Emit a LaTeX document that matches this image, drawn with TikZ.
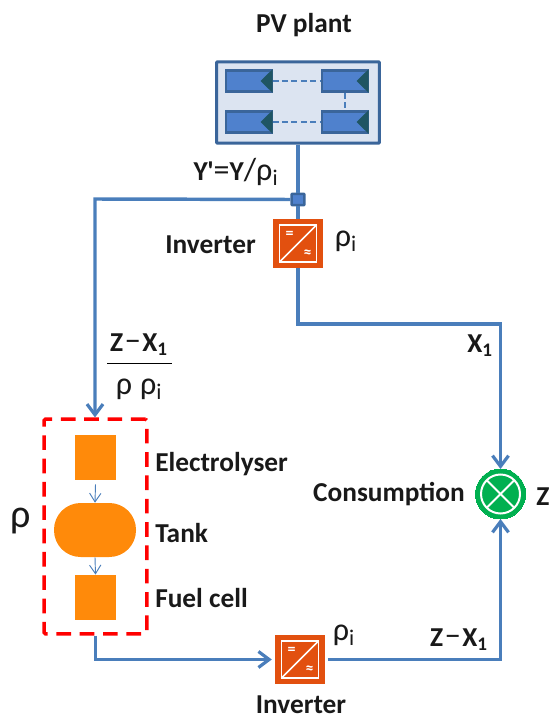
\documentclass[tikz,border=0pt]{standalone}
\usepackage{fontspec}
\setmainfont{Carlito}
\newfontfamily\plainfam{Carlito}
\usetikzlibrary{arrows.meta,calc}
\definecolor{flow}{HTML}{4A7EBB}
\definecolor{panelb}{HTML}{3A659A}
\definecolor{panelf}{HTML}{4F81CD}
\definecolor{pvbg}{HTML}{DCE4F1}
\definecolor{tri}{HTML}{1F5563}
\definecolor{inv}{HTML}{E2500F}
\definecolor{org}{HTML}{FF8A0A}
\definecolor{grn}{HTML}{00B050}
\tikzset{
  x=0.75pt,y=-0.75pt,
  lbl/.style={font=\bfseries\fontsize{20.5}{22}\selectfont,inner sep=0pt,text=black!90},
  sym/.style={font=\fontsize{24}{26}\selectfont,inner sep=0pt,text=black!90},
  flowline/.style={draw=flow,line width=2.6pt},
  flowarrow/.style={flowline,-{Straight Barb[length=8pt,width=12pt,line width=2.4pt]}},
  thinarrow/.style={draw=flow,line width=0.7pt,-{Straight Barb[length=6.5pt,width=8.5pt,line width=0.7pt]}},
  panelbox/.style={draw=panelb,fill=panelf,line width=2pt,minimum width=34pt,minimum height=15.5pt,inner sep=0pt},
  link/.style={draw=flow,line width=1.5pt,dash pattern=on 4.5pt off 2.6pt},
  orangebox/.style={fill=org,minimum width=31pt,inner sep=0pt},
  invbox/.style={fill=inv,minimum width=37.5pt,minimum height=37pt,inner sep=0pt}
}
\newcommand{\invsym}[1]{%
  \draw[white,line width=1.2pt] ($(#1)+(-18.5,-18.5)$) rectangle ($(#1)+(18.5,18.5)$);
  \draw[white,line width=1.2pt] ($(#1)+(-18.5,18.5)$) -- ($(#1)+(18.5,-18.5)$);
  \node[font=\bfseries\fontsize{12}{12}\selectfont,text=white,inner sep=0pt] at ($(#1)+(-8.5,-9)$) {=};
  \node[font=\bfseries\fontsize{12}{12}\selectfont,text=white,inner sep=0pt] at ($(#1)+(9.5,10)$) {≈};
}
\newcommand{\tritip}[1]{%
  \fill[tri] ($(#1.north east)$) -- ($(#1.south east)$) -- ($(#1.east)+(-12,0)$) -- cycle;
}
\newcommand{\zxone}{Z\kern0.06em{\normalfont\fontsize{24}{26}\selectfont\char"2212}\kern0.06em X\textsubscript{1}}
\begin{document}
\begin{tikzpicture}
\useasboundingbox (0,0) rectangle (550,716);
\clip (0,0) rectangle (550,716);

% PV plant
\node[lbl] (pvlabel) at (304,25) {PV plant};
\node[draw=panelb,fill=pvbg,line width=2.2pt,minimum width=122pt,minimum height=61pt,inner sep=0pt,rounded corners=0.5pt] (pv) at (298,102.5) {};
\node[panelbox] (p1) at (248.5,81) {};
\node[panelbox] (p2) at (344.5,81) {};
\node[panelbox] (p3) at (248.5,122) {};
\node[panelbox] (p4) at (344.5,122) {};
\tritip{p1}\tritip{p2}\tritip{p3}\tritip{p4}
\draw[link] (p1) -- (p2);
\draw[link] (p3) -- (p4);
\draw[link] (p2) -- (p4);

% Inverters
\node[invbox] (inv1) at (298,243.5) {};
\invsym{inv1}
\node[invbox] (inv2) at (300,659.5) {};
\invsym{inv2}

% junction
\node[draw=panelb,fill=panelf,line width=1.8pt,minimum width=9.5pt,minimum height=8.5pt,inner sep=0pt,rounded corners=0.5pt] (junc) at (298,199.5) {};

% Storage
\node[draw=red,line width=2.6pt,dash pattern=on 11pt off 6.5pt,minimum width=77pt,minimum height=161pt,inner sep=0pt,rounded corners=1pt] (store) at (95.5,526.5) {};
\node[orangebox,minimum height=34pt] (ely) at (95.5,457.5) {};
\node[fill=org,minimum width=61.5pt,minimum height=40.5pt,inner sep=0pt,rounded corners=20pt] (tank) at (95,530) {};
\node[orangebox,minimum height=34pt] (fc) at (95.5,597.5) {};
\draw[thinarrow] (ely.south) ++(0,4) -- (tank.north);
\draw[thinarrow] (tank.south) -- (fc.north);

% Consumption
\node[circle,draw=grn,fill=grn,line width=0pt,minimum size=37.5pt,inner sep=0pt] (cons) at (500.5,494) {};
\begin{scope}
\draw[white,line width=1.5pt] (500.5,494) circle (19.5);
\draw[white,line width=1.5pt] ($(500.5,494)+(-14,-14)$) -- ($(500.5,494)+(14,14)$);
\draw[white,line width=1.5pt] ($(500.5,494)+(14,-14)$) -- ($(500.5,494)+(-14,14)$);
\end{scope}

% Connectors
\coordinate (c1) at (95,199);
\coordinate (c2) at (298,324);
\coordinate (c3) at (500.5,324);
\coordinate (c4) at (95.5,659.5);
\coordinate (c5) at (500.5,659.5);
\draw[flowline] (pv.south) -- (junc.north);
\draw[flowline] (junc.south) -- (inv1.north);
\draw[flowarrow] (junc.west) -- (c1) -- (c1 |- store.north);
\draw[flowarrow] (inv1.south) -- (c2) -- (c3) -- (cons.north);
\draw[flowarrow] (store.south) -- (c4) -- ([xshift=-2.2pt]inv2.west);
\draw[flowarrow] ([xshift=2pt]inv2.east) -- (c5) -- (cons.south);

% Fraction
\node[lbl] (fnum) at (139,345) {\zxone};
\node[sym] (fden) at (139,389) {ρ\hspace{0.25em}ρ\textsubscript{i}};
\draw[black,line width=0.9pt] (107,363.5) coordinate (fa) -- (172,363.5) coordinate (fb);

% Labels
\node[lbl] (ylab) at (236,172) {Y\kern-0.02em{\plainfam\bfseries'}{\normalfont\fontsize{24}{26}\selectfont=}Y{\normalfont\fontsize{24}{26}\selectfont/ρ\textsubscript{i}}};
\node[lbl,anchor=east] (inv1lab) at (256,245) {Inverter};
\node[sym] (rho1) at (346,241) {ρ\textsubscript{i}};
\node[lbl] (x1lab) at (480,346) {X\textsubscript{1}};
\node[sym,font=\fontsize{30}{32}\selectfont] (rhobig) at (21,521) {ρ};
\node[lbl,anchor=west] (elab) at (155,464) {Electrolyser};
\node[lbl,anchor=west] (tlab) at (155,533) {Tank};
\node[lbl,anchor=west] (flab) at (155,598) {Fuel cell};
\node[lbl] (clab) at (389,494) {Consumption};
\node[lbl,anchor=west] (zlab) at (536,497) {Z};
\node[sym] (rho2) at (344,635) {ρ\textsubscript{i}};
\node[lbl] (zx) at (459,640) {\zxone};
\node[lbl] (inv2lab) at (301,704.5) {Inverter};
\end{tikzpicture}
\end{document}
